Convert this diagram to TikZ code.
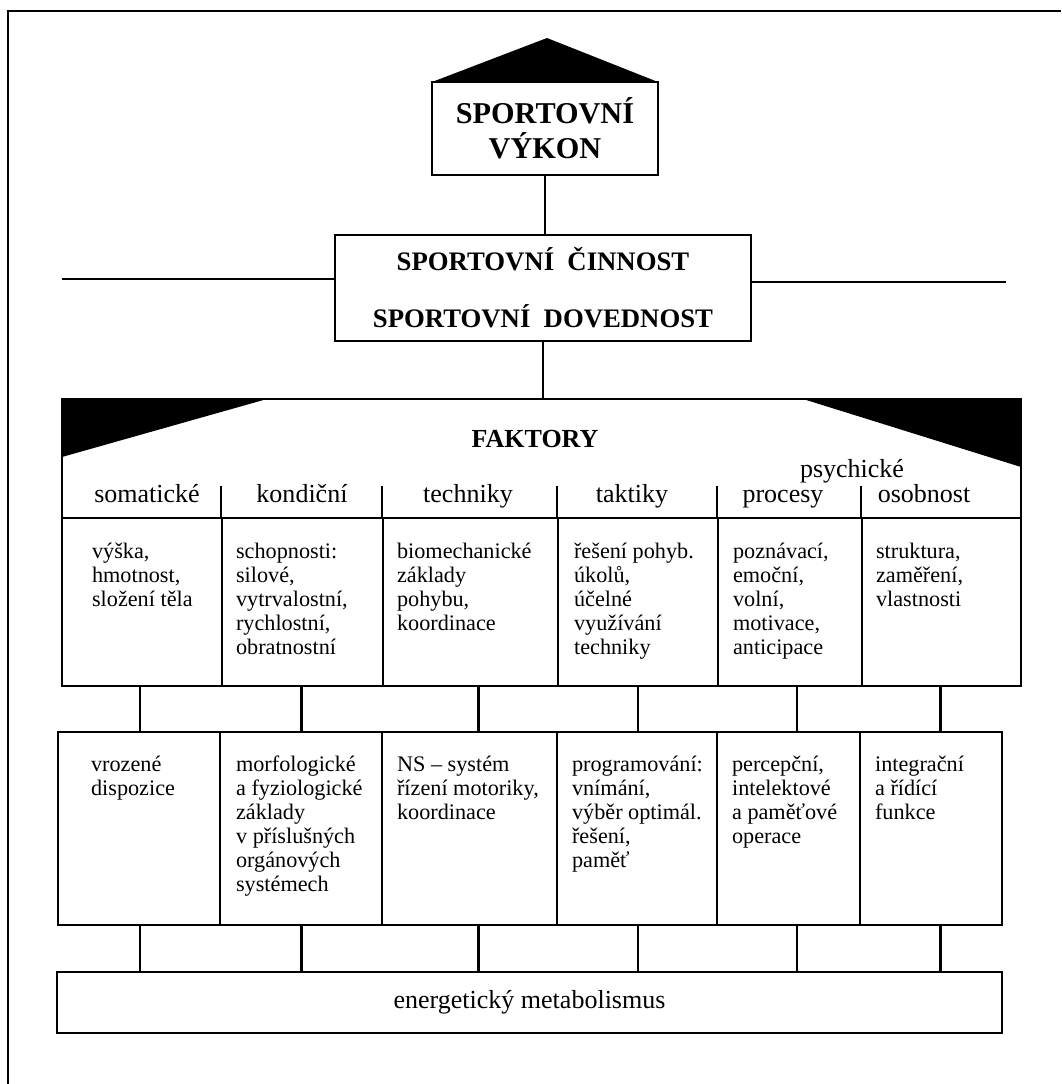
\documentclass[tikz,border=0pt]{standalone}
\usepackage{fontspec}
\setmainfont{Liberation Serif}
\usetikzlibrary{positioning}
\usetikzlibrary{fit}

\begin{document}
\begin{tikzpicture}[x = 0.025cm, y = -0.025cm,
box/.style = {draw, line width = 1.9pt, inner sep = 0pt},
topbox/.style = {box, font = \bfseries\fontsize{21.5}{24.8}\selectfont, align = center, minimum width = 5.65cm, minimum height = 2.325cm},
midbox/.style = {box, font = \bfseries\fontsize{19}{40.4}\selectfont, align = center, minimum width = 10.4cm, minimum height = 2.65cm},
lowbox/.style = {box, font = \fontsize{18.5}{22}\selectfont, minimum width = 23.625cm, minimum height = 1.525cm},
cell/.style = {draw, line width = 1.7pt, inner sep = 0pt},
colhead/.style = {font = \fontsize{18.5}{22}\selectfont, anchor = base, inner sep = 0pt},
celltext/.style = {font = \fontsize{15.8}{17}\selectfont, align = left, anchor = north west, inner sep = 0pt},
wire/.style = {line width = 1.5pt},
]
\useasboundingbox (0,0) rectangle (1061,1084);
\draw[wire] (8,1084) -- (8,11) -- (1061,11);

% performance and activity
\fill (432,82) -- (547,38) -- (658,82) -- cycle;
\node[topbox] (vykon) at (545,128.5) {SPORTOVNÍ\\VÝKON};
\node[midbox] (cinnost) at (543,288) {SPORTOVNÍ\ \ ČINNOST\\SPORTOVNÍ\ \ DOVEDNOST};
\coordinate (lend) at (62,279);
\coordinate (rend) at (1006,282);
\coordinate (ftop) at (545,399);
\draw[wire] (vykon.south) -- (vykon.south |- cinnost.north);
\draw[wire] (lend) -- (lend -| cinnost.west);
\draw[wire] (rend) -- (rend -| cinnost.east);
\draw[wire] (cinnost.south) -- (cinnost.south |- ftop);

% factors
\fill (62,399) -- (267,399) -- (62,457) -- cycle;
\fill (803,399) -- (1021,399) -- (1021,467) -- cycle;
\draw[box] (62,399) -- (1021,399) -- (1021,686) -- (62,686) -- cycle;
\node[colhead, font = \bfseries\fontsize{18.5}{22}\selectfont] (faktory) at (535,447) {FAKTORY};
\node[colhead] (psych) at (852,477) {psychické};

\foreach \i/\a/\b in {1/62/222, 2/222/383, 3/383/558, 4/558/718, 5/718/862, 6/862/1021}
  \node[cell, fit = {(\a,518) (\b,686)}] (t\i) {};
\foreach \i in {2,...,6}
  \draw[wire] (t\i.north west) -- ++(0,-31);

\node[colhead] (h1) at (147,502) {somatické};
\node[colhead] (h2) at (302,502) {kondiční};
\node[colhead] (h3) at (468,502) {techniky};
\node[colhead] (h4) at (632,502) {taktiky};
\node[colhead] (h5) at (783,502) {procesy};
\node[colhead] (h6) at (924,502) {osobnost};

\node[celltext] (x1) at ([shift = {(31,25)}] t1.north west) {\strut výška,\\hmotnost,\\složení těla};
\node[celltext] (x2) at ([shift = {(15,25)}] t2.north west) {\strut schopnosti:\\silové,\\vytrvalostní,\\rychlostní,\\obratnostní};
\node[celltext] (x3) at ([shift = {(15,25)}] t3.north west) {\strut biomechanické\\základy\\pohybu,\\koordinace};
\node[celltext] (x4) at ([shift = {(17,25)}] t4.north west) {\strut řešení pohyb.\\úkolů,\\účelné\\využívání\\techniky};
\node[celltext] (x5) at ([shift = {(16,25)}] t5.north west) {\strut poznávací,\\emoční,\\volní,\\motivace,\\anticipace};
\node[celltext] (x6) at ([shift = {(15,25)}] t6.north west) {\strut struktura,\\zaměření,\\vlastnosti};

% bases
\foreach \i/\a/\b in {1/58/220, 2/220/382, 3/382/557, 4/557/717, 5/717/860, 6/860/1002}
  \node[cell, fit = {(\a,732) (\b,925)}] (b\i) {};

\node[celltext] (y1) at ([shift = {(34,24)}] b1.north west) {\strut vrozené\\dispozice};
\node[celltext] (y2) at ([shift = {(17,24)}] b2.north west) {\strut morfologické\\a fyziologické\\základy\\v příslušných\\orgánových\\systémech};
\node[celltext] (y3) at ([shift = {(16,24)}] b3.north west) {\strut NS – systém\\řízení motoriky,\\koordinace};
\node[celltext] (y4) at ([shift = {(16,24)}] b4.north west) {\strut programování:\\vnímání,\\výběr optimál.\\řešení,\\paměť};
\node[celltext] (y5) at ([shift = {(16,24)}] b5.north west) {\strut percepční,\\intelektové\\a paměťové\\operace};
\node[celltext] (y6) at ([shift = {(16,24)}] b6.north west) {\strut integrační\\a řídící\\funkce};

\node[lowbox] (energ) at (529.5,1002.5) {energetický metabolismus};

\foreach \i/\dx in {1/-2, 2/-1, 3/8, 4/0, 5/7, 6/-1} {
  \coordinate (c\i) at ([xshift = \dx*0.025cm] t\i.south);
  \draw[wire] (c\i) -- (c\i |- b\i.north);
  \draw[wire] (c\i |- b\i.south) -- (c\i |- energ.north);
}
\end{tikzpicture}
\end{document}
